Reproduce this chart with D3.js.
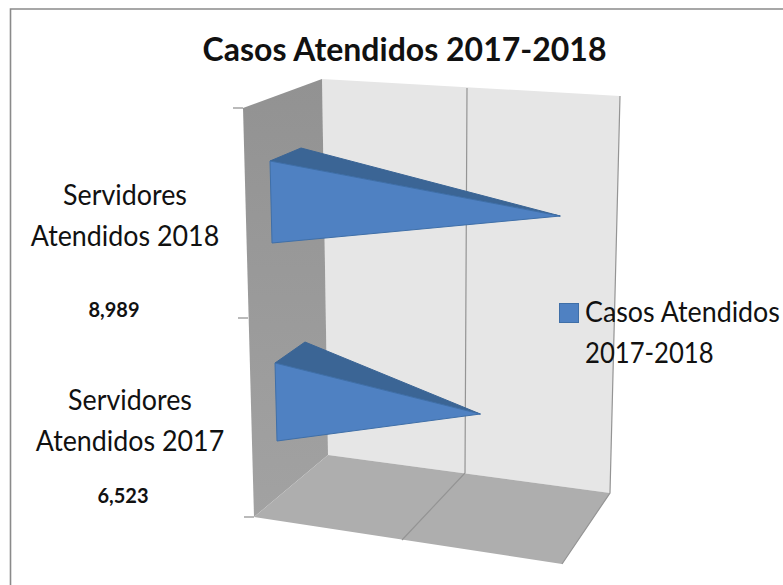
<!DOCTYPE html>
<html>
<head>
<meta charset="utf-8">
<title>Casos Atendidos 2017-2018</title>
<script src="https://d3js.org/d3.v7.min.js"></script>
<style>
	html, body { margin: 0; padding: 0; background: #fff; }
	svg { display: block; }
	text { font-family: Lato, "Open Sans", sans-serif; fill: #111; }
</style>
</head>
<body>
<script>
(function() {

	// chart values
	var categories = ["Servidores Atendidos 2018", "Servidores Atendidos 2017"];
	var values = [8989, 6523];
	var valueLabels = ["8,989", "6,523"];
	var categoryLines = [["Servidores", "Atendidos 2018"], ["Servidores", "Atendidos 2017"]];
	var valueTicks = [0, 5000, 10000];
	var chartTitle = "Casos Atendidos 2017-2018";
	var legendLines = ["Casos Atendidos", "2017-2018"];

	var width = 783;
	var height = 585;

	// Lato runs wider than the font in the picture, squeeze it sideways
	var squeeze = 0.925;
	var legendSqueeze = [0.925, 0.885];

	var svg = d3.select("body")
		.append("svg")
		.attr("width", width)
		.attr("height", height);

	// side wall shading
	var grad = svg.append("defs").append("linearGradient")
		.attr("id", "sideWall")
		.attr("x1", 0).attr("y1", 0).attr("x2", 0).attr("y2", 1);
	grad.append("stop").attr("offset", "0%").attr("stop-color", "#929292");
	grad.append("stop").attr("offset", "100%").attr("stop-color", "#a2a2a2");

	// only the top and left of the frame are in the picture
	svg.append("path")
		.attr("d", "M10.5,783V9H783")
		.attr("fill", "none")
		.attr("stroke", "#8a8a8a")
		.attr("stroke-width", 1.6);

	// the 3d box: one scale per edge that carries the value axis
	var wallTopX = d3.scaleLinear().domain(valueTicks).range([322, 467, 620]);
	var wallTopY = d3.scaleLinear().domain(valueTicks).range([79, 88, 96]);
	var floorBackX = d3.scaleLinear().domain(valueTicks).range([328, 465, 610]);
	var floorBackY = d3.scaleLinear().domain(valueTicks).range([455, 473, 493]);
	var floorFrontX = d3.scaleLinear().domain(valueTicks).range([254, 402, 562]);
	var floorFrontY = d3.scaleLinear().domain(valueTicks).range([517, 540, 564]);

	var vMax = valueTicks[2];
	var line = d3.line();

	// back wall
	svg.append("path")
		.attr("d", line([
			[wallTopX(0), wallTopY(0)], [wallTopX(vMax), wallTopY(vMax)],
			[floorBackX(vMax), floorBackY(vMax)], [floorBackX(0), floorBackY(0)]
		]) + "Z")
		.attr("fill", "#e6e6e6");

	// side wall
	svg.append("path")
		.attr("d", line([
			[243, 108], [wallTopX(0), wallTopY(0)],
			[floorBackX(0), floorBackY(0)], [floorFrontX(0), floorFrontY(0)]
		]) + "Z")
		.attr("fill", "url(#sideWall)");

	// floor
	svg.append("path")
		.attr("d", line([
			[floorFrontX(0), floorFrontY(0)], [floorBackX(0), floorBackY(0)],
			[floorBackX(vMax), floorBackY(vMax)], [floorFrontX(vMax), floorFrontY(vMax)]
		]) + "Z")
		.attr("fill", "#aeaeae");

	// gridlines, up the back wall and across the floor
	svg.selectAll(".grid")
		.data(valueTicks.slice(1))
		.enter().append("path")
		.attr("class", "grid")
		.attr("fill", "none")
		.attr("stroke", "#949494")
		.attr("stroke-width", 1.2)
		.attr("d", function(d) {
			return line([
				[wallTopX(d), wallTopY(d)],
				[floorBackX(d), floorBackY(d)],
				[floorFrontX(d), floorFrontY(d)]
			]);
		});

	// category axis ticks
	var tickY = d3.scaleLinear().domain([0, 1, 2]).range([108, 318, 517]);
	var tickX = d3.scaleLinear().domain([0, 1, 2]).range([243, 248, 254]);
	svg.selectAll(".tick")
		.data([0, 1, 2])
		.enter().append("line")
		.attr("class", "tick")
		.attr("x1", function(d) { return tickX(d) - 10; })
		.attr("x2", function(d) { return tickX(d); })
		.attr("y1", function(d) { return tickY(d); })
		.attr("y2", function(d) { return tickY(d); })
		.attr("stroke", "#8c8c8c")
		.attr("stroke-width", 1.2);

	// pyramids: tip from the value scale, base corners from the category
	var x = d3.scaleLinear().domain([0, vMax]).range([269, 593]);
	var tipY = d3.scalePoint().domain(categories).range([216, 414]);
	var baseX = d3.scalePoint().domain(categories).range([270, 275]);
	var baseTop = d3.scalePoint().domain(categories).range([161, 363]);
	var baseBottom = d3.scalePoint().domain(categories).range([243, 441]);
	var backX = d3.scalePoint().domain(categories).range([301, 305]);
	var backTop = d3.scalePoint().domain(categories).range([148, 342]);

	var bars = svg.selectAll(".bar")
		.data(categories)
		.enter().append("g")
		.attr("class", "bar");

	bars.append("path")
		.attr("d", function(c, i) {
			return line([
				[baseX(c), baseTop(c)], [backX(c), backTop(c)], [x(values[i]), tipY(c)]
			]) + "Z";
		})
		.attr("fill", "#3b6595")
		.attr("stroke", "#3b6595")
		.attr("stroke-linejoin", "round");

	bars.append("path")
		.attr("d", function(c, i) {
			return line([
				[baseX(c), baseTop(c)], [x(values[i]), tipY(c)], [baseX(c) + 2, baseBottom(c)]
			]) + "Z";
		})
		.attr("fill", "#4f81c2")
		.attr("stroke", "#3f6fa8")
		.attr("stroke-linejoin", "round");

	// title
	svg.append("text")
		.attr("transform", "translate(404.5,61) scale(0.97,1)")
		.attr("text-anchor", "middle")
		.attr("font-size", 33)
		.attr("font-weight", 700)
		.text(chartTitle);

	// category labels with their values underneath
	var labelX = [125, 130];
	var labelY = [205, 410];
	var valueX = [114, 123];
	var valueY = [317, 503];

	categoryLines.forEach(function(lines, i) {
		lines.forEach(function(t, j) {
			svg.append("text")
				.attr("transform", "translate(" + labelX[i] + "," + (labelY[i] + j * 41) + ") scale(" + squeeze + ",1)")
				.attr("text-anchor", "middle")
				.attr("font-size", 29)
				.text(t);
		});
		svg.append("text")
			.attr("x", valueX[i])
			.attr("y", valueY[i])
			.attr("text-anchor", "middle")
			.attr("font-size", 20)
			.attr("font-weight", 700)
			.text(valueLabels[i]);
	});

	// legend
	svg.append("rect")
		.attr("x", 559.5)
		.attr("y", 303.5)
		.attr("width", 19)
		.attr("height", 19)
		.attr("fill", "#4f81c2")
		.attr("stroke", "#3f6fa8");

	svg.selectAll(".legend")
		.data(legendLines)
		.enter().append("text")
		.attr("class", "legend")
		.attr("transform", function(d, i) {
			return "translate(585," + (322 + i * 41) + ") scale(" + legendSqueeze[i] + ",1)";
		})
		.attr("font-size", 29)
		.text(function(d) { return d; });

})();
</script>
</body>
</html>
